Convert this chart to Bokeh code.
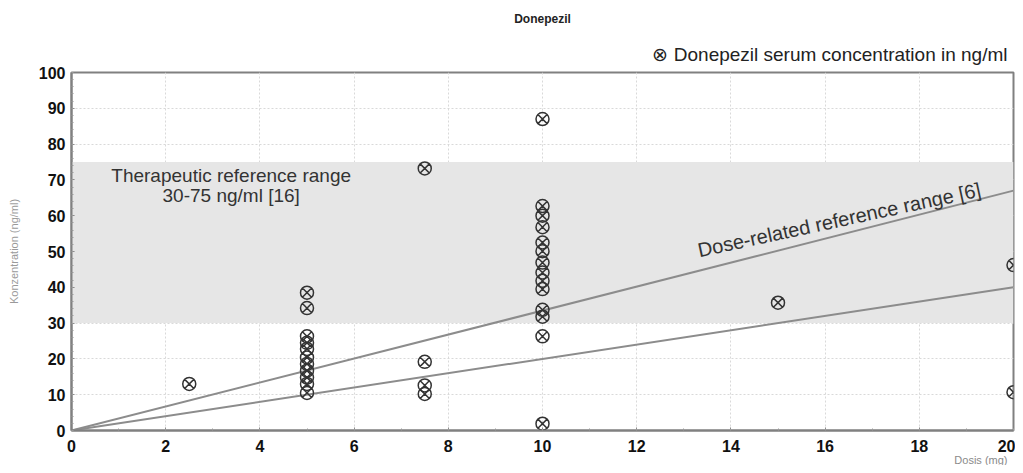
from math import radians
from bokeh.plotting import figure
from bokeh.models import (BoxAnnotation, Label, ColumnDataSource, FixedTicker, Title)
from bokeh.embed import file_html
from bokeh.resources import INLINE

# ---- data ----
dose_2_5 = [13.0]
dose_5 = [38.5, 34.2, 26.3, 24.5, 22.8, 20.4, 18.6, 16.7, 14.8, 13.0, 10.5]
dose_7_5 = [73.2, 19.2, 12.6, 10.2]
dose_10 = [87.0, 62.7, 60.0, 56.8, 52.5, 50.1, 46.9, 44.1, 41.8, 39.5, 33.7, 31.8, 26.3, 1.9]
dose_15 = [35.7]
dose_20 = [46.2, 10.7]

groups = [(2.5, dose_2_5), (5, dose_5), (7.5, dose_7_5), (10, dose_10), (15, dose_15), (20, dose_20)]

line_x = [0, 20]
upper_ref = [0, 67]
lower_ref = [0, 40]

therapeutic_low = 30
therapeutic_high = 75

x_ticks = [0, 2, 4, 6, 8, 10, 12, 14, 16, 18, 20]
y_ticks = [0, 10, 20, 30, 40, 50, 60, 70, 80, 90, 100]

series_label = "Donepezil serum concentration in ng/ml"

xs, ys = [], []
for d, vals in groups:
    xs += [d] * len(vals)
    ys += vals
src = ColumnDataSource(data=dict(dose=xs, conc=ys))

FONT = "Liberation Sans"

p = figure(width=1015, height=465, x_range=(0, 20), y_range=(0, 100),
           output_backend="svg", toolbar_location=None,
           min_border_left=71, min_border_right=2, min_border_top=72, min_border_bottom=35)
p.background_fill_color = "white"
p.outline_line_color = "#808080"
p.outline_line_width = 2

# shaded therapeutic band
p.add_layout(BoxAnnotation(bottom=therapeutic_low, top=therapeutic_high,
                           fill_color="#e6e6e6", fill_alpha=1.0, line_alpha=0, level="underlay"))

# grids
for g in (p.xgrid, p.ygrid):
    g.grid_line_color = "#d9d9d9"
    g.grid_line_dash = "2 2"
    g.grid_line_width = 1
p.xgrid.ticker = FixedTicker(ticks=x_ticks)
p.ygrid.ticker = FixedTicker(ticks=y_ticks)

# axes
p.xaxis.ticker = FixedTicker(ticks=x_ticks, minor_ticks=list(range(0, 21)))
p.yaxis.ticker = FixedTicker(ticks=y_ticks, minor_ticks=list(range(0, 101, 2)))
for ax in (p.xaxis, p.yaxis):
    ax.axis_line_color = "#808080"
    ax.axis_line_width = 2
    ax.major_tick_line_color = "#808080"
    ax.minor_tick_line_color = "#9a9a9a"
    ax.major_tick_in = 3
    ax.major_tick_out = 0
    ax.minor_tick_in = 2
    ax.minor_tick_out = 0
    ax.major_label_text_font = FONT
    ax.major_label_text_font_style = "bold"
    ax.major_label_text_font_size = "16px"
    ax.major_label_text_color = "#111111"
p.yaxis.major_label_standoff = 6
p.xaxis.major_label_standoff = 9

p.yaxis.axis_label = "Konzentration (ng/ml)"
p.yaxis.axis_label_text_font = FONT
p.yaxis.axis_label_text_font_size = "11px"
p.yaxis.axis_label_text_font_style = "normal"
p.yaxis.axis_label_text_color = "#9a9a9a"
p.yaxis.axis_label_standoff = 16

# dose-related reference lines
p.line(line_x, upper_ref, line_color="#8c8c8c", line_width=2)
p.line(line_x, lower_ref, line_color="#8c8c8c", line_width=2)

# scatter
p.scatter("dose", "conc", source=src, marker="circle_x", size=13,
          line_color="#333333", line_width=1.5, fill_alpha=0)

# legend-like key above the frame (closest to the frame), then the title
p.add_layout(Title(text="\u2297 " + series_label, align="right", text_font=FONT,
                   text_font_style="normal", text_font_size="19px", text_color="#222222",
                   standoff=16, offset=6), "above")
p.add_layout(Title(text="Donepezil", align="center", text_font=FONT, text_font_style="bold",
                   text_font_size="12px", text_color="#222222", standoff=15), "above")

p.add_layout(Title(text="Dosis (mg)", align="right", text_font=FONT, text_font_style="normal",
                   text_font_size="11px", text_color="#8a8a8a", standoff=-6, offset=6), "below")

# texts inside the plot
p.add_layout(Label(x=3.39, y=71.2, text="Therapeutic reference range", text_align="center",
                   text_baseline="alphabetic", text_font=FONT, text_font_size="19px",
                   text_color="#333333"))
p.add_layout(Label(x=3.39, y=65.6, text="30-75 ng/ml [16]", text_align="center",
                   text_baseline="alphabetic", text_font=FONT, text_font_size="19px",
                   text_color="#333333"))
p.add_layout(Label(x=13.3, y=50.3, text="Dose-related reference range [6]", angle=radians(12.2),
                   text_align="left", text_baseline="alphabetic", text_font=FONT,
                   text_font_size="20px", text_color="#333333"))

open("out.html", "w").write(file_html(p, INLINE))
